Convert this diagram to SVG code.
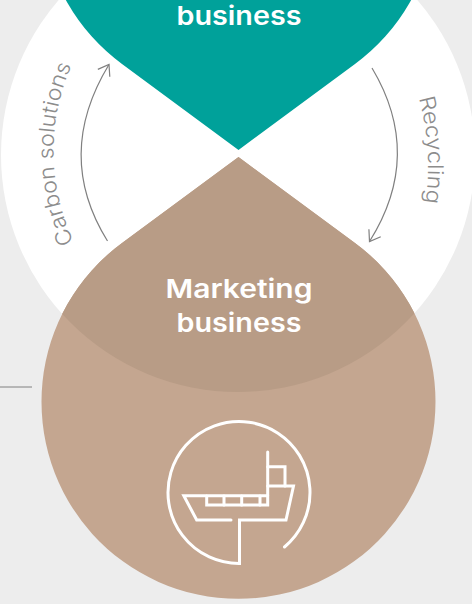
<svg xmlns="http://www.w3.org/2000/svg" width="472" height="604" viewBox="0 0 472 604">
  <defs>
    <clipPath id="whiteClip"><circle cx="238" cy="155" r="237"/></clipPath>
    <path id="carbonArc" d="M74 242 A212 212 0 0 1 76 56"/>
    <path id="recycleArc" d="M419 98 Q434 155 424 212"/>
    <marker id="chev" markerWidth="16" markerHeight="16" refX="13" refY="8" orient="auto" markerUnits="userSpaceOnUse">
      <path d="M3 1 L13 8 L3 15" fill="none" stroke="#808080" stroke-width="1.200"/>
    </marker>
  </defs>
  <style>
    .label { font-family: Inter, "Liberation Sans", sans-serif; font-size: 26px; font-weight: 600; fill: #fff; text-anchor: middle; }
    .side { font-family: Inter, "Liberation Sans", sans-serif; font-size: 21.500px; font-weight: 300; fill: #8c8c8c; }
    .conn { fill: none; stroke: #808080; stroke-width: 1.200; marker-end: url(#chev); }
    .icon { fill: none; stroke: #fff; stroke-width: 3; stroke-linecap: round; stroke-linejoin: miter; }
  </style>
  <rect width="472" height="604" fill="#ededed"/>
  <g id="cycle-background"><circle cx="238" cy="155" r="237" fill="#fff"/></g>
  <g id="trading-business">
    <path d="M238.500 150 L122 64 A197 197 0 1 1 355 64 Z" fill="#00a19a"/>
    <text class="label" x="239" y="25" textLength="125" lengthAdjust="spacingAndGlyphs">business</text>
  </g>
  <g id="marketing-business">
    <path d="M238.500 157 L122 243 A197 197 0 1 0 355 243 Z" fill="#c4a690"/>
    <path d="M238.500 157 L122 243 A197 197 0 1 0 355 243 Z" fill="#b89c86" clip-path="url(#whiteClip)"/>
    <text class="label" x="239" y="298" textLength="147" lengthAdjust="spacingAndGlyphs">Marketing</text>
    <text class="label" x="239" y="332" textLength="125" lengthAdjust="spacingAndGlyphs">business</text>
    <g class="icon">
      <path d="M284.500 547 A71 71 0 1 0 239.500 563.500 L239.500 520 L286 520 L293.500 486 L267.700 486"/>
      <path d="M267.700 452 L267.700 505 L206.700 505 L206.700 496"/>
      <path d="M231 520 L196.700 520 L183.800 495.700 L267.700 495.700"/>
      <path d="M224 496 L224 505 M241.700 496 L241.700 505 M260 496 L260 505"/>
      <path d="M267.700 466.700 L285 466.700 L285 486"/>
    </g>
  </g>
  <g id="connectors">
    <path class="conn" d="M107.500 241 Q54 155 109 64.500"/>
    <path class="conn" d="M372 68 Q424 155 369.500 241.500"/>
    <path d="M0 387 L32 387" fill="none" stroke="#808080" stroke-width="1"/>
  </g>
  <g id="edge-labels">
    <text class="side" textLength="182" lengthAdjust="spacingAndGlyphs"><textPath href="#carbonArc">Carbon solutions</textPath></text>
    <text class="side" textLength="106" lengthAdjust="spacingAndGlyphs"><textPath href="#recycleArc">Recycling</textPath></text>
  </g>
</svg>
